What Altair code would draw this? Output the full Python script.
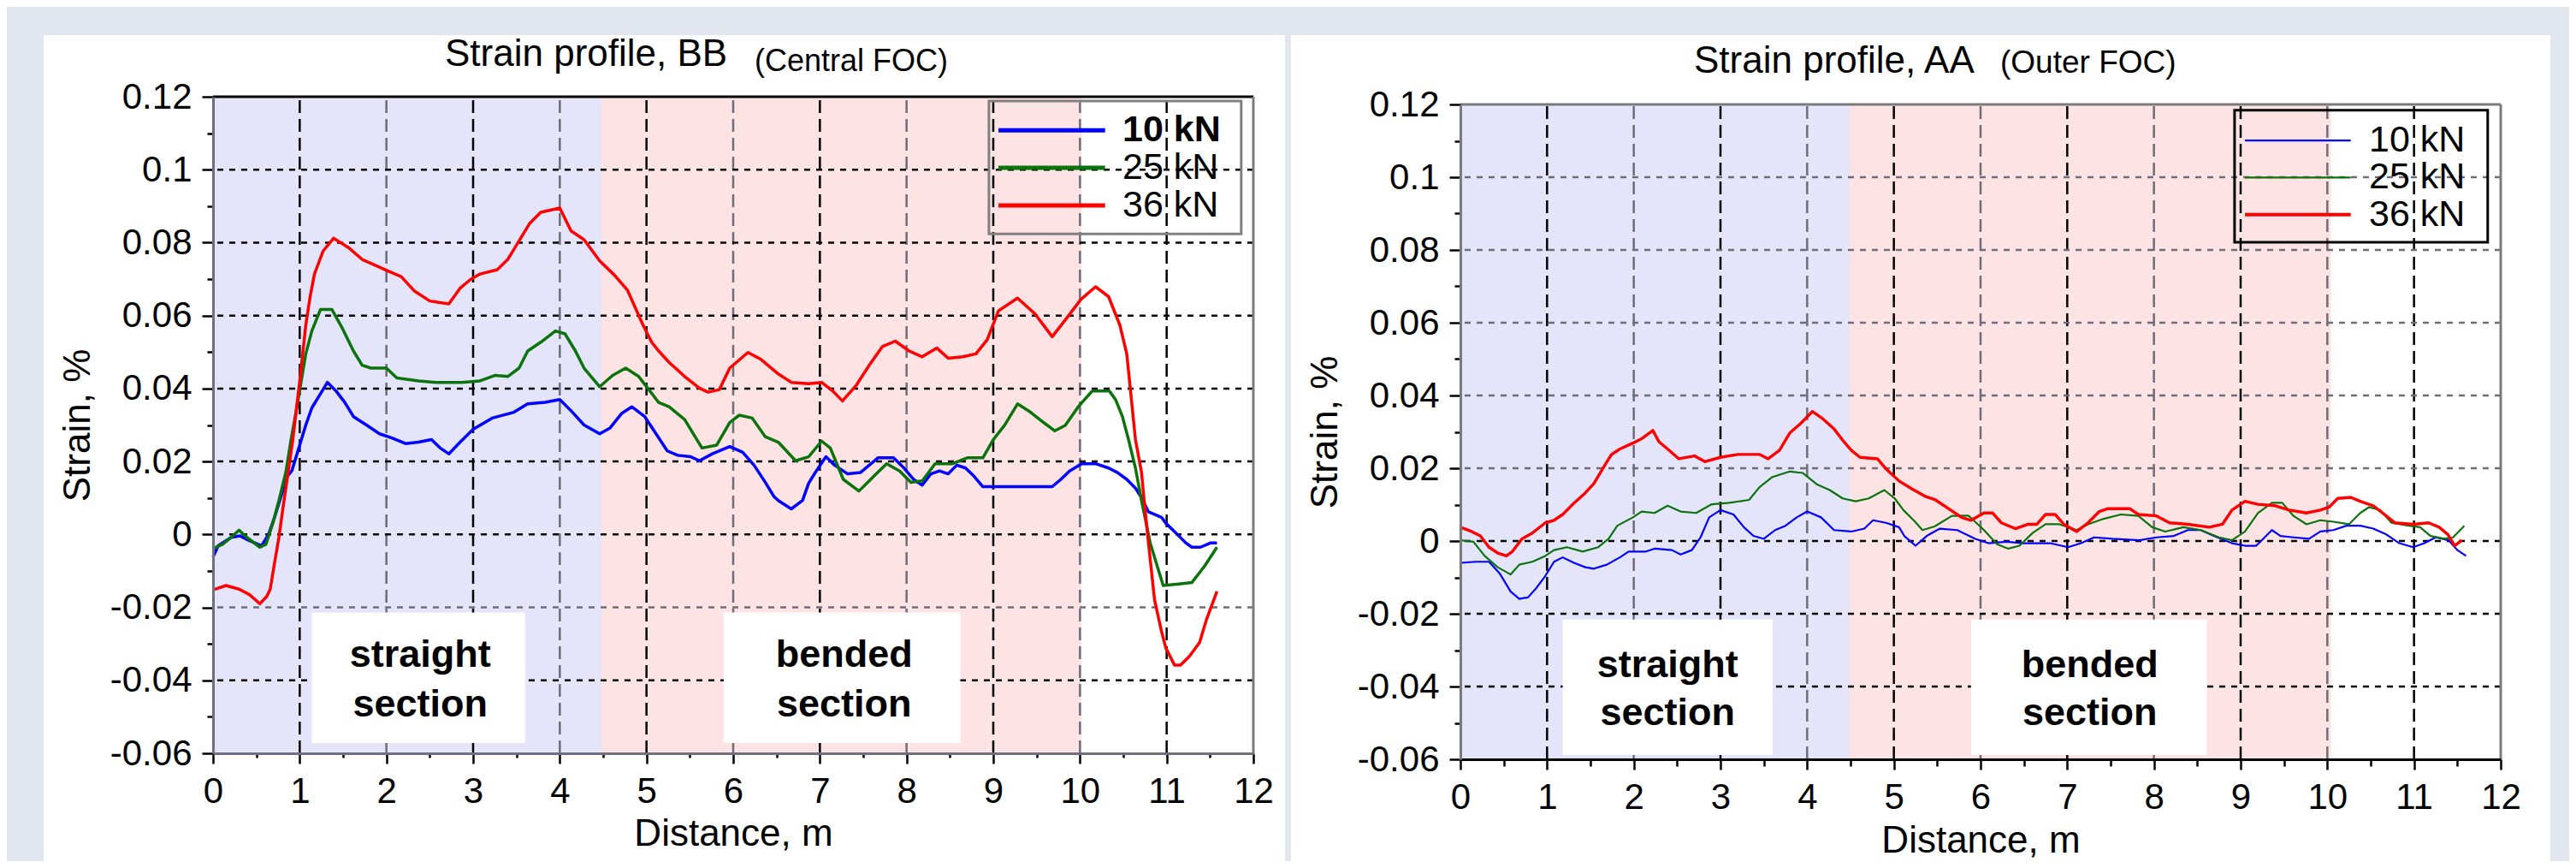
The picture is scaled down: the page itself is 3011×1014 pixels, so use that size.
import altair as alt
import pandas as pd

# ---------------- data ----------------
SERIES = ["10 kN", "25 kN", "36 kN"]
LINE_COLORS = ["#0000ff", "#0b730b", "#ff0000"]

# Strain profile BB (Central FOC): (distance m, strain %)
BB_10 = [(0.00, -0.0062), (0.06, -0.0031), (0.21, -0.0008), (0.31, -0.0004), (0.41, -0.0016),
         (0.56, -0.0031), (0.64, 0.0000), (0.71, 0.0047), (0.79, 0.0109), (0.86, 0.0160),
         (0.91, 0.0175), (0.99, 0.0237), (1.07, 0.0300), (1.14, 0.0347), (1.24, 0.0386),
         (1.32, 0.0417), (1.42, 0.0393), (1.52, 0.0362), (1.62, 0.0323), (1.77, 0.0300),
         (1.92, 0.0276), (2.07, 0.0264), (2.22, 0.0249), (2.37, 0.0253), (2.52, 0.0260),
         (2.62, 0.0237), (2.72, 0.0221), (2.85, 0.0253), (3.00, 0.0288), (3.22, 0.0319),
         (3.47, 0.0335), (3.63, 0.0358), (3.83, 0.0362), (4.00, 0.0370), (4.13, 0.0339),
         (4.28, 0.0300), (4.46, 0.0276), (4.58, 0.0292), (4.71, 0.0331), (4.83, 0.0350),
         (4.98, 0.0323), (5.11, 0.0276), (5.24, 0.0229), (5.36, 0.0217), (5.51, 0.0213),
         (5.61, 0.0202), (5.76, 0.0221), (5.96, 0.0241), (6.11, 0.0225), (6.24, 0.0190),
         (6.37, 0.0143), (6.47, 0.0104), (6.52, 0.0093), (6.67, 0.0070), (6.80, 0.0093),
         (6.87, 0.0140), (6.95, 0.0171), (7.07, 0.0213), (7.17, 0.0190), (7.32, 0.0166),
         (7.47, 0.0170), (7.67, 0.0210), (7.85, 0.0210), (7.97, 0.0182), (8.08, 0.0151),
         (8.18, 0.0135), (8.28, 0.0166), (8.38, 0.0174), (8.48, 0.0166), (8.58, 0.0190),
         (8.68, 0.0182), (8.78, 0.0159), (8.88, 0.0131), (9.18, 0.0131), (9.48, 0.0131),
         (9.68, 0.0131), (9.78, 0.0151), (9.88, 0.0174), (10.02, 0.0194), (10.18, 0.0194),
         (10.33, 0.0182), (10.43, 0.0170), (10.54, 0.0151), (10.64, 0.0127), (10.71, 0.0101),
         (10.79, 0.0062), (10.94, 0.0047), (10.99, 0.0031), (11.09, 0.0008), (11.22, -0.0023),
         (11.29, -0.0035), (11.39, -0.0035), (11.51, -0.0023), (11.58, -0.0023)]
BB_25 = [(0.00, -0.0039), (0.11, -0.0027), (0.21, -0.0008), (0.30, 0.0012), (0.39, -0.0008),
         (0.54, -0.0035), (0.61, -0.0027), (0.69, 0.0031), (0.76, 0.0093), (0.84, 0.0171),
         (0.90, 0.0260), (0.96, 0.0339), (1.07, 0.0495), (1.14, 0.0558), (1.24, 0.0617),
         (1.37, 0.0617), (1.49, 0.0566), (1.62, 0.0503), (1.72, 0.0464), (1.82, 0.0456),
         (2.00, 0.0456), (2.12, 0.0429), (2.37, 0.0421), (2.57, 0.0417), (2.87, 0.0417),
         (3.08, 0.0421), (3.25, 0.0436), (3.40, 0.0433), (3.53, 0.0456), (3.63, 0.0503),
         (3.78, 0.0527), (3.95, 0.0558), (4.06, 0.0550), (4.18, 0.0503), (4.28, 0.0456),
         (4.46, 0.0405), (4.61, 0.0436), (4.76, 0.0456), (4.91, 0.0433), (5.04, 0.0393),
         (5.14, 0.0362), (5.26, 0.0350), (5.44, 0.0315), (5.64, 0.0237), (5.81, 0.0245),
         (5.96, 0.0307), (6.07, 0.0327), (6.22, 0.0319), (6.37, 0.0268), (6.52, 0.0253),
         (6.72, 0.0202), (6.87, 0.0213), (7.02, 0.0256), (7.12, 0.0237), (7.27, 0.0151),
         (7.45, 0.0119), (7.62, 0.0159), (7.77, 0.0194), (7.92, 0.0174), (8.05, 0.0143),
         (8.18, 0.0147), (8.33, 0.0194), (8.53, 0.0194), (8.70, 0.0210), (8.88, 0.0210),
         (9.00, 0.0260), (9.13, 0.0299), (9.28, 0.0358), (9.43, 0.0335), (9.58, 0.0307),
         (9.71, 0.0284), (9.83, 0.0299), (9.98, 0.0350), (10.14, 0.0393), (10.34, 0.0393),
         (10.41, 0.0370), (10.49, 0.0323), (10.56, 0.0260), (10.64, 0.0182), (10.71, 0.0093),
         (10.81, -0.0023), (10.89, -0.0086), (10.96, -0.0140), (11.14, -0.0136),
         (11.29, -0.0132), (11.44, -0.0086), (11.58, -0.0035)]
BB_36 = [(0.00, -0.0152), (0.15, -0.0140), (0.30, -0.0150), (0.42, -0.0165), (0.54, -0.0190),
         (0.62, -0.0170), (0.66, -0.0150), (0.71, -0.0078), (0.76, -0.0008), (0.81, 0.0078),
         (0.86, 0.0160), (0.92, 0.0260), (0.97, 0.0360), (1.00, 0.0420), (1.07, 0.0574),
         (1.12, 0.0652), (1.17, 0.0714), (1.27, 0.0777), (1.39, 0.0812), (1.57, 0.0785),
         (1.72, 0.0754), (1.87, 0.0738), (2.02, 0.0722), (2.17, 0.0707), (2.32, 0.0668),
         (2.50, 0.0640), (2.72, 0.0632), (2.85, 0.0675), (2.97, 0.0699), (3.08, 0.0714),
         (3.28, 0.0726), (3.40, 0.0754), (3.50, 0.0793), (3.65, 0.0852), (3.78, 0.0883),
         (4.00, 0.0895), (4.13, 0.0832), (4.28, 0.0808), (4.46, 0.0750), (4.63, 0.0711),
         (4.78, 0.0670), (4.96, 0.0574), (5.06, 0.0527), (5.14, 0.0503), (5.26, 0.0472),
         (5.44, 0.0433), (5.61, 0.0401), (5.71, 0.0390), (5.84, 0.0397), (5.96, 0.0456),
         (6.17, 0.0499), (6.32, 0.0480), (6.52, 0.0440), (6.67, 0.0417), (6.87, 0.0413),
         (7.02, 0.0417), (7.15, 0.0393), (7.26, 0.0366), (7.42, 0.0409), (7.57, 0.0464),
         (7.72, 0.0515), (7.87, 0.0530), (8.03, 0.0503), (8.18, 0.0487), (8.35, 0.0511),
         (8.48, 0.0483), (8.65, 0.0487), (8.80, 0.0495), (8.93, 0.0534), (9.06, 0.0613),
         (9.28, 0.0648), (9.48, 0.0605), (9.68, 0.0542), (9.86, 0.0597), (10.01, 0.0644),
         (10.18, 0.0679), (10.33, 0.0652), (10.46, 0.0574), (10.54, 0.0495), (10.59, 0.0378),
         (10.64, 0.0260), (10.71, 0.0170), (10.74, 0.0093), (10.79, -0.0023), (10.86, -0.0179),
         (10.94, -0.0265), (10.99, -0.0311), (11.09, -0.0358), (11.16, -0.0358),
         (11.26, -0.0335), (11.38, -0.0296), (11.46, -0.0233), (11.58, -0.0156)]

# Strain profile AA (Outer FOC)
AA_10 = [(0.00, -0.0060), (0.18, -0.0057), (0.33, -0.0057), (0.45, -0.0088), (0.58, -0.0139),
         (0.68, -0.0159), (0.78, -0.0155), (0.88, -0.0128), (0.98, -0.0096), (1.08, -0.0057),
         (1.18, -0.0045), (1.31, -0.0060), (1.44, -0.0072), (1.54, -0.0076), (1.69, -0.0065),
         (1.84, -0.0045), (1.94, -0.0029), (2.14, -0.0029), (2.24, -0.0021), (2.44, -0.0025),
         (2.54, -0.0037), (2.67, -0.0025), (2.77, 0.0010), (2.87, 0.0065), (3.00, 0.0085),
         (3.15, 0.0073), (3.27, 0.0038), (3.38, 0.0014), (3.50, 0.0006), (3.63, 0.0030),
         (3.75, 0.0042), (3.88, 0.0065), (4.00, 0.0081), (4.16, 0.0065), (4.31, 0.0030),
         (4.51, 0.0026), (4.66, 0.0034), (4.76, 0.0057), (4.91, 0.0050), (5.06, 0.0038),
         (5.12, 0.0014), (5.25, -0.0013), (5.38, 0.0014), (5.53, 0.0034), (5.73, 0.0030),
         (5.94, 0.0006), (6.09, -0.0006), (6.30, -0.0002), (6.50, -0.0006), (6.80, -0.0006),
         (7.01, -0.0017), (7.16, -0.0006), (7.31, 0.0010), (7.52, 0.0006), (7.83, 0.0002),
         (8.03, 0.0010), (8.23, 0.0014), (8.39, 0.0030), (8.54, 0.0030), (8.69, 0.0014),
         (8.90, -0.0006), (9.05, -0.0013), (9.18, -0.0013), (9.26, 0.0006), (9.36, 0.0030),
         (9.46, 0.0014), (9.61, 0.0010), (9.79, 0.0006), (9.92, 0.0026), (10.07, 0.0030),
         (10.22, 0.0042), (10.38, 0.0042), (10.53, 0.0034), (10.68, 0.0018), (10.83, -0.0006),
         (10.99, -0.0017), (11.12, -0.0006), (11.25, 0.0010), (11.40, 0.0002), (11.50, -0.0025),
         (11.60, -0.0041)]
AA_25 = [(0.00, 0.0002), (0.15, -0.0002), (0.28, -0.0041), (0.43, -0.0072), (0.58, -0.0092),
         (0.68, -0.0065), (0.83, -0.0057), (0.98, -0.0041), (1.08, -0.0025), (1.23, -0.0017),
         (1.41, -0.0029), (1.59, -0.0017), (1.71, 0.0006), (1.81, 0.0042), (1.99, 0.0065),
         (2.09, 0.0081), (2.24, 0.0077), (2.39, 0.0097), (2.54, 0.0081), (2.72, 0.0077),
         (2.90, 0.0101), (3.10, 0.0105), (3.33, 0.0113), (3.45, 0.0148), (3.60, 0.0176),
         (3.80, 0.0191), (3.95, 0.0187), (4.11, 0.0156), (4.26, 0.0140), (4.41, 0.0117),
         (4.56, 0.0109), (4.71, 0.0117), (4.89, 0.0140), (5.01, 0.0117), (5.11, 0.0085),
         (5.24, 0.0054), (5.33, 0.0030), (5.47, 0.0040), (5.67, 0.0069), (5.86, 0.0070),
         (6.04, 0.0030), (6.19, -0.0009), (6.32, -0.0021), (6.45, -0.0013), (6.60, 0.0022),
         (6.75, 0.0046), (6.91, 0.0046), (7.11, 0.0030), (7.24, 0.0046), (7.42, 0.0061),
         (7.62, 0.0073), (7.82, 0.0069), (7.98, 0.0038), (8.13, 0.0026), (8.34, 0.0038),
         (8.54, 0.0030), (8.75, 0.0010), (8.90, 0.0002), (9.05, 0.0026), (9.20, 0.0077),
         (9.36, 0.0105), (9.48, 0.0105), (9.61, 0.0069), (9.76, 0.0046), (9.92, 0.0057),
         (10.07, 0.0053), (10.25, 0.0046), (10.38, 0.0077), (10.48, 0.0093), (10.61, 0.0085),
         (10.74, 0.0050), (10.94, 0.0042), (11.07, 0.0038), (11.19, 0.0014), (11.35, 0.0006),
         (11.45, 0.0010), (11.58, 0.0042)]
AA_36 = [(0.00, 0.0038), (0.13, 0.0026), (0.23, 0.0014), (0.33, -0.0017), (0.43, -0.0033),
         (0.53, -0.0041), (0.60, -0.0029), (0.71, 0.0006), (0.83, 0.0022), (0.98, 0.0050),
         (1.08, 0.0057), (1.18, 0.0073), (1.31, 0.0104), (1.44, 0.0132), (1.54, 0.0158),
         (1.66, 0.0206), (1.74, 0.0237), (1.84, 0.0253), (1.99, 0.0269), (2.09, 0.0281),
         (2.22, 0.0304), (2.29, 0.0273), (2.39, 0.0253), (2.52, 0.0226), (2.70, 0.0234),
         (2.82, 0.0218), (3.00, 0.0230), (3.20, 0.0238), (3.45, 0.0238), (3.55, 0.0226),
         (3.68, 0.0249), (3.80, 0.0297), (3.93, 0.0324), (4.06, 0.0356), (4.18, 0.0336),
         (4.31, 0.0308), (4.41, 0.0277), (4.51, 0.0249), (4.61, 0.0230), (4.81, 0.0226),
         (4.91, 0.0198), (5.06, 0.0165), (5.21, 0.0143), (5.37, 0.0122), (5.48, 0.0113),
         (5.63, 0.0089), (5.78, 0.0065), (5.89, 0.0057), (6.04, 0.0077), (6.14, 0.0077),
         (6.24, 0.0050), (6.40, 0.0034), (6.55, 0.0046), (6.65, 0.0046), (6.75, 0.0073),
         (6.86, 0.0073), (6.96, 0.0046), (7.11, 0.0026), (7.24, 0.0050), (7.37, 0.0081),
         (7.47, 0.0089), (7.72, 0.0089), (7.82, 0.0073), (8.03, 0.0069), (8.18, 0.0050),
         (8.39, 0.0046), (8.64, 0.0038), (8.79, 0.0046), (8.90, 0.0085), (9.05, 0.0109),
         (9.20, 0.0101), (9.40, 0.0097), (9.56, 0.0085), (9.76, 0.0077), (9.92, 0.0085),
         (10.02, 0.0093), (10.12, 0.0117), (10.27, 0.0120), (10.38, 0.0109), (10.53, 0.0097),
         (10.68, 0.0069), (10.78, 0.0050), (10.99, 0.0046), (11.17, 0.0050), (11.29, 0.0038),
         (11.39, 0.0018), (11.47, -0.0013), (11.55, 0.0002)]

X_DOMAIN = [0, 12]
Y_DOMAIN = [-0.06, 0.12]
X_TICKS = [i / 2 for i in range(25)]
Y_TICKS = [round(-0.06 + i * 0.01, 2) for i in range(19)]
X_GRID_DARK = [1, 3, 5, 7, 9, 11]
X_GRID_LIGHT = [2, 4, 6, 8, 10]

SECTION_NAMES = ["straight", "bended"]
SECTION_COLORS = ["#e4e4fb", "#fde3e4"]

FONT = "Liberation Sans"
GRAY = "#7a7a7a"


def long_df(series_pts):
    rows = []
    for name, pts in zip(SERIES, series_pts):
        for i, (x, y) in enumerate(pts):
            rows.append({"series": name, "x": x, "y": y, "order": i})
    return pd.DataFrame(rows)


def panel(c):
    W, H, yoff = 1216, c["H"], c["yoff"]
    xsc = alt.Scale(domain=X_DOMAIN, nice=False, zero=False)
    ysc = alt.Scale(domain=Y_DOMAIN, range=[H, yoff], nice=False, zero=False)
    csc = alt.Scale(domain=SERIES, range=LINE_COLORS)
    xaxis = alt.Axis(
        values=X_TICKS, title="Distance, m",
        labelExpr="datum.value % 1 != 0 ? '' : '' + datum.value",
        tickSize={"condition": {"test": "datum.value % 1 != 0", "value": c["xminor"]}, "value": 12},
        tickWidth=2.5, tickColor="black", domainColor=c["xdom"], domainWidth=3,
        labelPadding=12, titlePadding=c["xtp"], labelFlush=False, labelOverlap=False,
        grid=False, zindex=1)
    yaxis = alt.Axis(
        values=Y_TICKS, title="Strain, %",
        labelExpr="round(datum.value*100) % 2 != 0 ? '' : '' + datum.value",
        tickSize={"condition": {"test": "round(datum.value*100) % 2 != 0", "value": 7}, "value": 13},
        tickWidth=2.5, tickColor="black", domainColor=c["ydom"], domainWidth=3,
        labelPadding=12, titlePadding=c["ytp"], labelOverlap=False, grid=False, zindex=1)

    def X(f="x"):
        return alt.X(f"{f}:Q", scale=xsc, axis=xaxis)

    def Y(f="y"):
        return alt.Y(f"{f}:Q", scale=ysc, axis=yaxis)

    ylo, yhi = Y_DOMAIN
    one = alt.Data(values=[{}])
    layers = []
    # white panel behind everything
    layers.append(alt.Chart(one).mark_rect(fill="white").encode(
        x=alt.value(c["wx"][0]), x2=alt.value(c["wx"][1]),
        y=alt.value(c["wy"][0]), y2=alt.value(c["wy"][1])))
    # section shading
    sec = pd.DataFrame({"section": SECTION_NAMES, "x": [0, c["split"][0]], "x2": c["split"]})
    layers.append(alt.Chart(sec).transform_calculate(y0=f"{ylo}", y1=f"{yhi}").mark_rect().encode(
        x=X(), x2="x2:Q", y=Y("y0"), y2="y1:Q",
        fill=alt.Fill("section:N", scale=alt.Scale(domain=SECTION_NAMES, range=SECTION_COLORS), legend=None)))
    # grid
    for vals, col in [(X_GRID_DARK, "#000000"), (X_GRID_LIGHT, "#6e6e78")]:
        layers.append(alt.Chart(pd.DataFrame({"x": vals})).transform_calculate(
            y0=f"{ylo}", y1=f"{yhi}").mark_rule(
            stroke=col, strokeWidth=2.5, strokeDash=[15, 7]).encode(x=X(), y=Y("y0"), y2="y1:Q"))
    for vals, col in [(c["ygrid_dark"], "#000000"), (c["ygrid_light"], "#6e6e78")]:
        layers.append(alt.Chart(pd.DataFrame({"y": vals})).mark_rule(
            stroke=col, strokeWidth=2.5, strokeDash=[7, 7]).encode(y=Y()))
    # annotation boxes
    boxes = pd.DataFrame(c["boxes"], columns=["x", "x2", "y", "y2"])
    layers.append(alt.Chart(boxes).mark_rect(fill="white").encode(x=X(), x2="x2:Q", y=Y(), y2="y2:Q"))
    notes = pd.DataFrame(c["notes"], columns=["x", "y", "t"])
    layers.append(alt.Chart(notes).mark_text(font=FONT, fontSize=45, fontWeight="bold",
                                             align="center", baseline="alphabetic", color="black").encode(
        x=X(), y=Y(), text="t:N"))
    # frame: top and right borders
    layers.append(alt.Chart(pd.DataFrame({"y": [yhi]})).mark_rule(
        stroke=c["topcol"], strokeWidth=3).encode(y=Y()))
    layers.append(alt.Chart(pd.DataFrame({"x": [X_DOMAIN[1]]})).transform_calculate(
        y0=f"{ylo}", y1=f"{yhi}").mark_rule(stroke=GRAY, strokeWidth=3).encode(
        x=X(), y=Y("y0"), y2="y1:Q"))
    # data lines, one layer per series so each gets its own stroke width
    df = long_df(c["data"])
    for name, lw in zip(SERIES, c["lw"]):
        layers.append(alt.Chart(df).transform_filter(alt.datum.series == name).mark_line(
            strokeWidth=lw, strokeJoin="round").encode(
            x=X(), y=Y(), order="order:Q",
            color=alt.Color("series:N", scale=csc, legend=None)))
    # legend
    lb = c["legbox"]
    layers.append(alt.Chart(pd.DataFrame([{"x": lb[0], "x2": lb[1], "y": lb[2], "y2": lb[3]}])).mark_rect(
        fillOpacity=0, stroke=c["legstroke"], strokeWidth=3).encode(x=X(), x2="x2:Q", y=Y(), y2="y2:Q"))
    leg = pd.DataFrame({"series": SERIES, "row": list(range(len(SERIES)))})
    top, step = c["legrows"]
    legx1, legx2, legtx = c["legx"]
    for name, lw in zip(SERIES, c["leglw"]):
        layers.append(alt.Chart(leg).transform_filter(alt.datum.series == name).transform_calculate(
            ly=f"{top} - datum.row * {step}", lx1=f"{legx1}", lx2=f"{legx2}").mark_rule(
            strokeWidth=lw).encode(
            x=X("lx1"), x2="lx2:Q", y=Y("ly"),
            color=alt.Color("series:N", scale=csc, legend=None)))
    for weight, cond in [(c["first_weight"], "datum.row == 0"), ("normal", "datum.row != 0")]:
        layers.append(alt.Chart(leg).transform_filter(cond).transform_calculate(
            ly=f"{top} - datum.row * {step}", lx=f"{legtx}").mark_text(
            font=FONT, fontSize=43, fontWeight=weight, align="left", baseline="middle", color="black").encode(
            x=X("lx"), y=Y("ly"), text="series:N"))
    # titles
    t1, t2 = c["titles"]
    layers.append(alt.Chart(one).mark_text(font=FONT, fontSize=44, align="left", baseline="alphabetic",
                                           color="black", text=t1[0]).encode(
        x=alt.value(t1[1]), y=alt.value(t1[2])))
    layers.append(alt.Chart(one).mark_text(font=FONT, fontSize=t2[3], align="left", baseline="alphabetic",
                                           color="black", text=t2[0]).encode(
        x=alt.value(t2[1]), y=alt.value(t2[2])))
    return alt.layer(*layers).properties(width=W, height=H)


left = panel({
    "H": 767, "yoff": 0, "xminor": 5, "xdom": "#6f6f80", "ydom": "#6f6f80", "topcol": "#000000",
    "xtp": 7, "ytp": 15,
    "wx": (-198, 1253), "wy": (-72, 893), "split": [4.48, 10.02],
    "ygrid_dark": [0.1, 0.08, 0.06, 0.04, 0.02, 0, -0.04], "ygrid_light": [-0.02],
    "boxes": [(1.14, 3.60, -0.0214, -0.0572), (5.89, 8.62, -0.0214, -0.0572)],
    "notes": [(2.39, -0.0364, "straight"), (2.39, -0.0499, "section"),
              (7.28, -0.0364, "bended"), (7.28, -0.0499, "section")],
    "data": [BB_10, BB_25, BB_36], "lw": [3.5, 3.5, 3.5],
    "legbox": (8.95, 11.86, 0.0824, 0.1188), "legstroke": "#808080",
    "legrows": (0.1108, 0.0103), "legx": (9.06, 10.29, 10.49), "leglw": [5, 5, 5],
    "first_weight": "bold",
    "titles": [("Strain profile, BB", 271, -36), ("(Central FOC)", 633, -30, 36)],
})

right = panel({
    "H": 774, "yoff": 9, "xminor": 8, "xdom": "#000000", "ydom": GRAY, "topcol": GRAY,
    "xtp": 8, "ytp": 15,
    "wx": (-198, 1274), "wy": (-72, 893), "split": [4.49, 10.04],
    "ygrid_dark": [0, -0.02, -0.04], "ygrid_light": [0.1, 0.08, 0.06, 0.04, 0.02],
    "boxes": [(1.18, 3.60, -0.0216, -0.0588), (5.89, 8.61, -0.0216, -0.0588)],
    "notes": [(2.39, -0.0373, "straight"), (2.39, -0.0506, "section"),
              (7.26, -0.0373, "bended"), (7.26, -0.0506, "section")],
    "data": [AA_10, AA_25, AA_36], "lw": [2.2, 2.2, 3.4],
    "legbox": (8.93, 11.85, 0.0821, 0.1184), "legstroke": "#000000",
    "legrows": (0.1101, 0.0102), "legx": (9.05, 10.27, 10.48), "leglw": [2.2, 2.2, 4],
    "first_weight": "normal",
    "titles": [("Strain profile, AA", 273, -28), ("(Outer FOC)", 631, -28, 37)],
})

chart = alt.hconcat(left, right, spacing=7).properties(
    padding={"left": 43, "top": 33, "right": 22, "bottom": 0},
    background="#e2e6ee",
).configure_view(
    strokeWidth=0
).configure_axis(
    labelFont=FONT, labelFontSize=42, labelColor="black",
    titleFont=FONT, titleFontSize=44, titleFontWeight="normal", titleColor="black",
)

chart.save("out.html", embed_options={"renderer": "svg", "actions": False})
